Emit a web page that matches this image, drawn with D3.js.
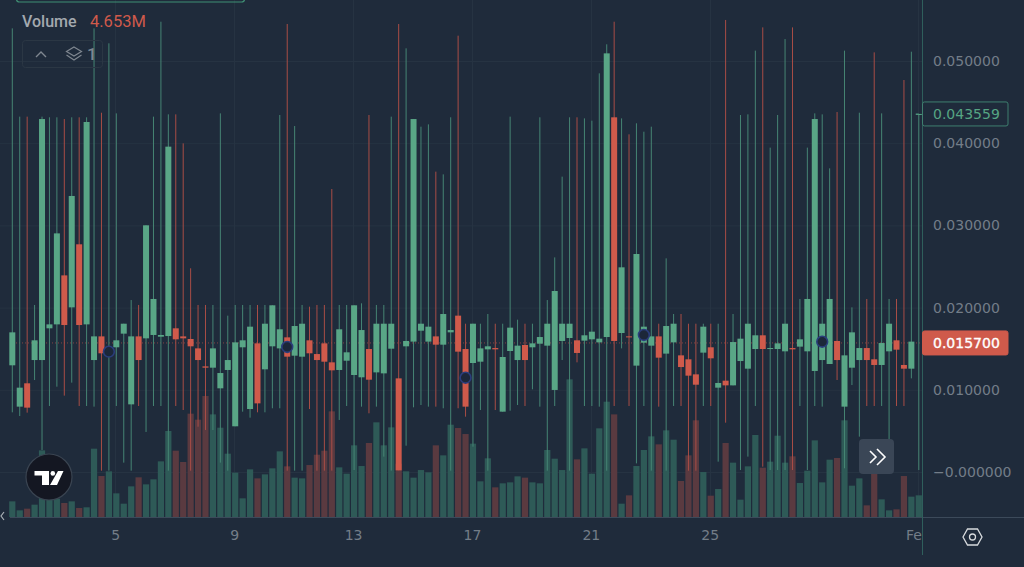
<!DOCTYPE html>
<html>
<head>
<meta charset="utf-8">
<script src="https://cdn.jsdelivr.net/npm/d3@7"></script>
<style>
  html, body { margin: 0; padding: 0; background: #1f2b3b; overflow: hidden; }
  svg { display: block; font-family: "DejaVu Sans", sans-serif; }
</style>
</head>
<body>
<div id="chart-area"></div>
<script>
// Candle values, one entry per 6h bar
const opens = [
  .01298,.00795,.01079,.01362,.01362,.01748,.01796,.02392,.02003,.0277,
  .01796,.01362,.0165,.01444,.01517,.01683,.00823,.0165,.01626,.01667,
  .01646,.01654,.01748,.0165,.01618,.01504,.01285,.01269,.01018,.01241,
  .00556,.01517,.00766,.01565,.01249,.01529,.01504,.01638,.01415,.01403,
  .01602,.01435,.01565,.01334,.01241,.01354,.0118,.01152,.01496,.01212,
  .012,.015,.01139,.01529,.01586,.01719,.01586,.0165,.01549,.01699,
  .01902,.01496,.01326,.01342,.01492,.01508,.00734,.01472,.01362,.01545,
  .01517,.01561,.01537,.00998,.01594,.0163,.01602,.01598,.01614,.01577,
  .01642,.04315,.01691,.0165,.01294,.01573,.01537,.0165,.0144,.01577,
  .01419,.01371,.01188,.01452,.01517,.01026,.01111,.01054,.0135,.01257,
  .01496,.01663,.015,.01496,.01468,.01508,.01525,.01468,.01229,.01362,
  .01314,.01594,.00795,.01269,.01362,.01508,.01371,.01302,.01468,.01602,
  .01302,.01257,.04352
];
const closes = [
  .01699,.01026,.00783,.01602,.04294,.01796,.02903,.01788,.03358,.01788,
  .04258,.0165,.01444,.01484,.01602,.01804,.0165,.01362,.03001,.02105,
  .01667,.03958,.01614,.01626,.01529,.01362,.01269,.01504,.01204,.01362,
  .01577,.01602,.01768,.00835,.01804,.02028,.01736,.01403,.01776,.01804,
  .01444,.01362,.01342,.01237,.01736,.01456,.02028,.01727,.01123,.01804,
  .01804,.01804,.0002,.01594,.04294,.01804,.01768,.01549,.01922,.01727,
  .01464,.00795,.01804,.01504,.01529,.01492,.01399,.01756,.01537,.01362,
  .01565,.01642,.01804,.02202,.01804,.01804,.01448,.01663,.01707,.01622,
  .05093,.01594,.0249,.0164,.02652,.01768,.0165,.01391,.01776,.01804,
  .01277,.01172,.01062,.01768,.01383,.01083,.01054,.01581,.01622,.01804,
  .01663,.01496,.01508,.01565,.01804,.01492,.01614,.02105,.04294,.01804,
  .02105,.01362,.01419,.01699,.01508,.01362,.01302,.01569,.01804,.01488,
  .01257,.01586,.04356
];
const highs = [
  .05397,.04323,.04323,.02032,.04323,.04315,.04315,.04294,.04315,.04315,
  .04315,.05397,.04371,.05215,.04363,.01804,.02092,.02032,.03001,.04323,
  .05478,.04351,.04351,.03998,.02478,.02032,.02032,.02032,.04363,.01902,
  .02032,.02032,.02032,.02032,.02032,.02028,.04343,.0545,.04209,.02032,
  .02011,.02032,.02032,.03443,.02032,.02032,.02028,.02052,.04343,.02032,
  .02032,.04323,.0545,.05154,.04294,.04201,.04229,.03654,.03621,.04315,
  .05308,.01804,.01804,.01804,.01922,.01804,.01804,.04323,.01853,.01804,
  .01804,.04315,.02092,.02611,.03593,.04315,.04315,.04302,.04274,.0485,
  .05203,.05478,.04302,.04108,.04242,.0414,.04201,.01804,.02599,.01922,
  .01922,.01804,.01804,.01804,.01804,.01804,.05499,.01922,.04343,.04351,
  .05126,.05409,.03946,.04343,.05267,.05409,.02105,.03946,.04363,.04351,
  .03694,.04379,.05126,.02003,.04371,.02105,.05105,.04363,.02105,.02105,
  .04769,.05113,.04356
];
const lows = [
  .00726,.00681,.00722,.01119,.00268,.00803,.01038,.00929,.01087,.00803,
  .00803,.00795,.00016,.00016,.00803,.00114,.00016,.00803,.00487,.00803,
  .00803,.00016,.00803,.00754,.00016,.00551,.00511,.00511,.00114,.00016,
  .00556,.00734,.00661,.00726,.00726,.00775,.00775,.00016,.00016,.00016,
  .00766,.00016,.00016,.00016,.00633,.00803,.00024,.00795,.00714,.00795,
  .00187,.00016,.0002,.0032,.00787,.00815,.00795,.00795,.00775,.00016,
  .00775,.00673,.00308,.00754,.00016,.00754,.00734,.00746,.00815,.00803,
  .01006,.00795,.00016,.00803,.01362,.00016,.01334,.00803,.00803,.00795,
  .00016,.00803,.01504,.00803,.00105,.00803,.00016,.00795,.00016,.00803,
  .00803,.00016,.00016,.00803,.00803,.00126,.006,.01054,.00024,.00187,
  .00803,.00065,.00024,.00024,.00024,.00024,.00803,.00024,.00803,.00795,
  .01314,.01119,.00045,.01058,.0043,.00803,.00803,.00803,.00389,.00803,
  .00803,.01139,.00024
];
// Volume in millions
const volumes = [
  3.36,1.43,1.79,2.65,14.31,4.29,3.94,3.01,3.36,1.93,
  2.08,14.67,8.8,9.81,5.08,2.86,6.58,8.52,7.01,8.09,
  11.95,18.47,14.24,11.81,22.19,20.9,25.98,22.04,19.18,13.6,
  9.52,4.01,10.23,8.3,9.16,10.45,14.1,10.88,8.45,8.3,
  11.16,13.38,14.24,22.69,10.66,9.3,15.39,10.95,15.89,20.33,
  15.39,19.25,11.45,9.81,8.45,10.09,9.59,15.39,13.24,19.82,
  19.11,17.82,15.75,7.66,12.6,6.37,7.23,7.44,8.73,8.45,
  7.44,7.23,14.39,12.52,10.09,29.56,12.38,14.74,9.3,19.04,
  24.76,22.04,2.86,4.65,10.95,14.39,17.32,15.6,18.61,16.6,
  7.73,13.24,20.76,9.66,4.58,6.01,15.89,11.67,3.72,10.88,
  17.61,10.59,11.88,17.46,11.67,13.03,7.3,9.95,16.46,7.44,
  12.31,12.67,20.76,6.73,8.3,2.5,9.3,3.79,1.43,1.65,
  8.8,4.37,4.653
];
// Dark round markers sitting on some bars
const markerBars = [13, 37, 61, 85, 109];
const markerPrices = [.01464, .01521, .01147, .01667, .01585];

const priceTicks = [0, .01, .02, .03, .04, .05];
const priceTickLabels = ["\u22120.000000", "0.010000", "0.020000", "0.030000", "0.040000", "0.050000"];
const timeTickBars = [14, 30, 46, 62, 78, 94, 122];
const timeTickLabels = ["5", "9", "13", "17", "21", "25", "Feb"];
const volumeLabel = "4.653M";
const lastPrice = .0157;
const hoverPrice = .043559;

const W = 1024, H = 567;
const paneRight = 922, baseY = 517;
const greenBody = "#59a686", redBody = "#cf5a4b";
const greenWick = "#468574", redWick = "#a84d46";
const greenVol = "#2e5a57", redVol = "#5a3a40";
const axisText = "#737d88";

const svg = d3.select("#chart-area").append("svg")
  .attr("width", W)
  .attr("height", H)
  .attr("viewBox", `0 0 ${W} ${H}`);

svg.append("rect").attr("width", W).attr("height", H).attr("fill", "#1f2b3b");

svg.append("clipPath").attr("id", "pane")
  .append("rect").attr("width", paneRight).attr("height", H);

const x = d3.scaleLinear().domain([0, opens.length - 1]).range([12.3, 918.8]);
const y = d3.scaleLinear().domain([0, .05]).range([472, 61]);
const yVol = d3.scaleLinear().domain([0, 30]).range([baseY, baseY - 139.7]);

const pane = svg.append("g").attr("clip-path", "url(#pane)");
const bars = d3.range(opens.length);
const isUp = i => closes[i] >= opens[i];

// Grid
pane.append("g").selectAll("line").data(priceTicks).join("line")
  .attr("x1", 0).attr("x2", paneRight)
  .attr("y1", d => y(d) + .5).attr("y2", d => y(d) + .5)
  .attr("stroke", "#263342");
pane.append("g").selectAll("line").data(timeTickBars).join("line")
  .attr("x1", d => Math.round(x(d)) - .5).attr("x2", d => Math.round(x(d)) - .5)
  .attr("y1", 0).attr("y2", baseY)
  .attr("stroke", "#263342");

// Volume
pane.append("g").selectAll("rect").data(bars).join("rect")
  .attr("x", i => x(i) - 3.1)
  .attr("width", 6.2)
  .attr("y", i => yVol(volumes[i]))
  .attr("height", i => baseY - yVol(volumes[i]))
  .attr("fill", i => isUp(i) ? greenVol : redVol);

// Last price line
pane.append("line")
  .attr("x1", 10).attr("x2", paneRight)
  .attr("y1", y(lastPrice)).attr("y2", y(lastPrice))
  .attr("stroke", redBody).attr("stroke-opacity", .55)
  .attr("stroke-dasharray", "1 2");

// Candles
pane.append("g").selectAll("line").data(bars).join("line")
  .attr("x1", i => x(i)).attr("x2", i => x(i))
  .attr("y1", i => y(highs[i])).attr("y2", i => y(lows[i]))
  .attr("stroke", i => isUp(i) ? greenWick : redWick);
pane.append("g").selectAll("rect").data(bars).join("rect")
  .attr("x", i => x(i) - 3)
  .attr("width", 6)
  .attr("y", i => y(Math.max(opens[i], closes[i])))
  .attr("height", i => Math.max(1, Math.abs(y(opens[i]) - y(closes[i]))))
  .attr("fill", i => isUp(i) ? greenBody : redBody);

// Markers
pane.append("g").selectAll("circle").data(markerBars).join("circle")
  .attr("cx", d => x(d))
  .attr("cy", (d, i) => y(markerPrices[i]))
  .attr("r", 5.4)
  .attr("fill", "#1c2739")
  .attr("stroke", "#2a3d7c")
  .attr("stroke-width", 1.6);

// Hover tick on last bar
pane.append("line")
  .attr("x1", x(122) - 3).attr("x2", x(122))
  .attr("y1", y(hoverPrice)).attr("y2", y(hoverPrice))
  .attr("stroke", greenWick);

// Time axis, labels clipped by the pane edge
const xAxis = d3.axisBottom(x)
  .tickValues(timeTickBars)
  .tickFormat((d, i) => timeTickLabels[i])
  .tickSize(0)
  .tickPadding(13);
const gx = pane.append("g").attr("transform", `translate(-1,${baseY})`).call(xAxis);
gx.select(".domain").remove();
gx.selectAll("text").attr("fill", axisText).attr("font-size", 14).attr("font-family", "DejaVu Sans");

// Price axis
const yAxis = d3.axisRight(y)
  .tickValues(priceTicks)
  .tickFormat((d, i) => priceTickLabels[i])
  .tickSize(0)
  .tickPadding(11);
const gy = svg.append("g").attr("transform", `translate(${paneRight},0)`).call(yAxis);
gy.select(".domain").remove();
gy.selectAll("text").attr("fill", axisText).attr("font-size", 14).attr("font-family", "DejaVu Sans");

// Pane borders
svg.append("line").attr("x1", 10).attr("x2", W).attr("y1", baseY + .5).attr("y2", baseY + .5)
  .attr("stroke", "#3c4a5a");
svg.append("line").attr("x1", paneRight + .5).attr("x2", paneRight + .5).attr("y1", 0).attr("y2", 555)
  .attr("stroke", "#2f5f5c");

// Price badges
function badge(price, text, fill, stroke, color, thicken) {
  const g = svg.append("g").attr("transform", `translate(${paneRight},${y(price)})`);
  g.append("rect").attr("x", .5).attr("y", -12).attr("width", 85.5).attr("height", 24)
    .attr("rx", 2).attr("fill", fill).attr("stroke", stroke);
  g.append("text").attr("x", 11).attr("dy", ".35em").attr("font-size", 14)
    .attr("stroke", color).attr("stroke-width", thicken).attr("fill", color).text(text);
}
badge(hoverPrice, d3.format(".6f")(hoverPrice), "#1f2b3b", "#3f7f6f", "#56a583", 0);
badge(lastPrice, d3.format(".6f")(lastPrice), redBody, redBody, "#ffffff", .35);

// Legend
svg.append("rect").attr("x", 16.5).attr("y", -20).attr("width", 228).attr("height", 22)
  .attr("rx", 3).attr("fill", "none").attr("stroke", "#3f8f74").attr("stroke-width", 1.2);
svg.append("text").attr("x", 22).attr("y", 26.5).attr("font-size", 16).attr("font-family", "Roboto")
  .attr("font-weight", 500).attr("fill", "#a3a9af").text("Volume");
svg.append("text").attr("x", 90).attr("y", 26.5).attr("font-size", 16.5).attr("font-family", "Roboto")
  .attr("fill", redBody).text(volumeLabel);

const legendBox = svg.append("g");
legendBox.append("rect").attr("x", 22.5).attr("y", 40.5).attr("width", 80).attr("height", 27)
  .attr("rx", 3).attr("fill", "none").attr("stroke", "#2b3744");
legendBox.append("path").attr("d", "M36 57l5-5 5 5")
  .attr("fill", "none").attr("stroke", "#7f8790").attr("stroke-width", 1.4);
legendBox.append("path").attr("d", "M74 47l7.5 4.5-7.5 4.5-7.5-4.5z M66.5 55l7.5 5 7.5-5")
  .attr("fill", "none").attr("stroke", "#7f8790").attr("stroke-width", 1.2);
legendBox.append("text").attr("x", 87).attr("y", 60).attr("font-size", 17).attr("font-family", "Roboto")
  .attr("font-weight", 500).attr("fill", "#7f8790").text("1");

// TradingView badge
const logo = svg.append("g").attr("transform", "translate(49,477)");
logo.append("circle").attr("r", 23).attr("fill", "#141722").attr("stroke", "#3a4451").attr("stroke-width", 1.2);
logo.append("path").attr("d", "M-14.5-6H0V8H-7V-1.5H-14.5Z M9-6H14.5L8 8H1Z").attr("fill", "#ffffff");
logo.append("circle").attr("cx", 3.8).attr("cy", -3.6).attr("r", 2.3).attr("fill", "#ffffff");

// Scroll button
const btn = svg.append("g").attr("transform", "translate(859,439)");
btn.append("rect").attr("width", 35).attr("height", 35).attr("rx", 4).attr("fill", "#3a4656");
btn.append("path").attr("d", "M11 12l6 6-6 6 M18 10l8 8-8 8")
  .attr("fill", "none").attr("stroke", "#ffffff").attr("stroke-width", 1.6);

// Settings hexagon
const gear = svg.append("g").attr("transform", "translate(972.5,537)");
gear.append("path").attr("d", "M-9.5 0L-5 -8H5L9.5 0L5 8H-5Z")
  .attr("fill", "none").attr("stroke", "#d8dbde").attr("stroke-width", 1.3);
gear.append("circle").attr("r", 3).attr("fill", "none").attr("stroke", "#d8dbde").attr("stroke-width", 1.3);

// Left scroll hint
svg.append("path").attr("d", "M4 512L1 516L4 520").attr("fill", "none").attr("stroke", "#aab0b6").attr("stroke-width", 1.2);
</script>
</body>
</html>
